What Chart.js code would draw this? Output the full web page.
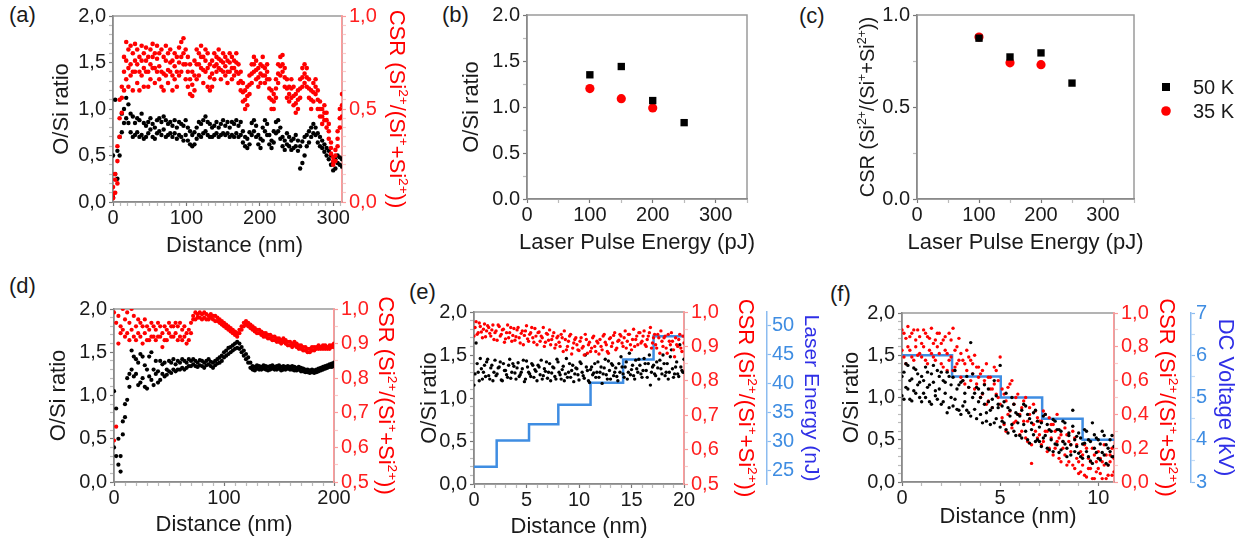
<!DOCTYPE html>
<html>
<head>
<meta charset="utf-8">
<script src="https://cdn.jsdelivr.net/npm/chart.js@4.4.1/dist/chart.umd.min.js"></script>
<style>
body { margin: 0; background: #fff; width: 1245px; height: 544px; position: relative; overflow: hidden; font-family: "Liberation Sans", Arial, sans-serif; }
canvas { position: absolute; }
.lab { position: absolute; font-size: 22px; line-height: 1; color: #1a1a1a; }
</style>
</head>
<body>
<div class="lab" style="left:9px;top:4px">(a)</div>
<div class="lab" style="left:442px;top:4px">(b)</div>
<div class="lab" style="left:799px;top:5px">(c)</div>
<div class="lab" style="left:9px;top:275px">(d)</div>
<div class="lab" style="left:409px;top:281px">(e)</div>
<div class="lab" style="left:830px;top:283px">(f)</div>

<canvas id="chartA" width="420" height="260" style="left:0;top:0"></canvas>
<canvas id="chartB" width="380" height="260" style="left:420px;top:0"></canvas>
<canvas id="chartC" width="405" height="260" style="left:840px;top:0"></canvas>
<canvas id="chartD" width="420" height="282" style="left:0;top:262px"></canvas>
<canvas id="chartE" width="440" height="282" style="left:400px;top:262px"></canvas>
<canvas id="chartF" width="415" height="282" style="left:830px;top:262px"></canvas>

<script>
// ---- (a) depth profile, 0-312 nm
const distA = [
  0,3,6,9,12,15,18,21,24,27,
  30,33,36,39,42,45,48,51,54,57,
  60,63,66,69,72,75,78,81,84,87,
  90,93,96,99,102,105,108,111,114,117,
  120,123,126,129,132,135,138,141,144,147,
  150,153,156,159,162,165,168,171,174,177,
  180,183,186,189,192,195,198,201,204,207,
  210,213,216,219,222,225,228,231,234,237,
  240,243,246,249,252,255,258,261,264,267,
  270,273,276,279,282,285,288,291,294,297,
  300,303,306,309,312];
const oSiA = [
  0.05,0.3,0.25,0.5,0.75,0.85,1.12,1.05,0.95,0.92,
  0.85,0.9,0.88,0.95,0.85,0.82,0.86,0.9,0.84,0.8,
  0.88,0.9,0.86,0.92,0.88,0.84,0.86,0.82,0.88,0.8,
  0.86,0.84,0.82,0.88,0.8,0.76,0.72,0.75,0.8,0.86,
  0.84,0.88,0.92,0.86,0.84,0.8,0.82,0.86,0.8,0.84,
  0.88,0.82,0.86,0.8,0.86,0.84,0.88,0.82,0.86,0.76,
  0.7,0.68,0.75,0.85,0.88,0.82,0.72,0.68,0.8,0.88,
  0.84,0.72,0.66,0.76,0.86,0.88,0.8,0.7,0.66,0.74,
  0.7,0.66,0.68,0.72,0.66,0.6,0.65,0.7,0.72,0.76,
  0.8,0.84,0.8,0.74,0.7,0.66,0.62,0.58,0.55,0.5,
  0.42,0.46,0.5,0.48,0.46];
const oSiA2 = [
  0.5,1.1,0.55,0.7,0.95,1.0,0.9,0.85,0.75,0.7,
  0.72,0.75,0.7,0.72,0.68,0.7,0.74,0.78,0.7,0.68,
  0.74,0.76,0.72,0.78,0.7,0.72,0.74,0.7,0.74,0.68,
  0.72,0.7,0.66,0.72,0.66,0.62,0.6,0.62,0.68,0.72,
  0.7,0.74,0.76,0.72,0.7,0.7,0.72,0.74,0.7,0.72,
  0.74,0.72,0.74,0.7,0.72,0.7,0.74,0.7,0.72,0.64,
  0.6,0.58,0.62,0.72,0.76,0.7,0.62,0.58,0.66,0.76,
  0.72,0.62,0.58,0.64,0.74,0.76,0.68,0.6,0.56,0.62,
  0.6,0.56,0.58,0.6,0.55,0.36,0.42,0.5,0.6,0.64,
  0.7,0.74,0.72,0.64,0.6,0.58,0.54,0.5,0.46,0.4,
  0.34,0.36,0.42,0.4,0.38];
const csrA = [
  0.02,0.05,0.22,0.35,0.62,0.78,0.86,0.82,0.84,0.8,
  0.85,0.82,0.78,0.84,0.8,0.83,0.78,0.82,0.85,0.8,
  0.84,0.8,0.82,0.78,0.84,0.8,0.82,0.76,0.8,0.78,
  0.83,0.86,0.88,0.82,0.78,0.74,0.7,0.76,0.82,0.8,
  0.84,0.78,0.82,0.8,0.74,0.76,0.8,0.78,0.82,0.76,
  0.8,0.78,0.76,0.8,0.78,0.76,0.8,0.74,0.7,0.64,
  0.6,0.62,0.68,0.74,0.78,0.76,0.72,0.74,0.78,0.72,
  0.74,0.66,0.6,0.58,0.66,0.74,0.78,0.79,0.72,0.66,
  0.62,0.66,0.62,0.58,0.6,0.66,0.72,0.74,0.72,0.66,
  0.6,0.64,0.66,0.6,0.54,0.5,0.52,0.48,0.42,0.32,
  0.24,0.28,0.38,0.5,0.58];
const csrA2 = [
  0.08,0.15,0.1,0.55,0.48,0.6,0.66,0.62,0.68,0.6,
  0.7,0.64,0.6,0.68,0.62,0.7,0.62,0.66,0.72,0.64,
  0.7,0.66,0.62,0.6,0.68,0.64,0.7,0.6,0.66,0.62,
  0.68,0.7,0.74,0.66,0.62,0.58,0.57,0.6,0.66,0.68,
  0.72,0.64,0.7,0.62,0.6,0.62,0.66,0.7,0.72,0.66,
  0.7,0.68,0.64,0.7,0.66,0.68,0.7,0.64,0.6,0.54,
  0.5,0.52,0.58,0.64,0.7,0.66,0.62,0.64,0.68,0.64,
  0.66,0.56,0.5,0.5,0.56,0.64,0.68,0.7,0.62,0.56,
  0.54,0.56,0.52,0.48,0.5,0.56,0.62,0.64,0.62,0.56,
  0.5,0.54,0.58,0.5,0.46,0.42,0.44,0.4,0.34,0.26,
  0.2,0.22,0.3,0.4,0.46];
const csrA3 = [
  0.04,0.12,0.3,0.45,0.56,0.7,0.76,0.72,0.74,0.7,
  0.76,0.74,0.7,0.76,0.72,0.76,0.7,0.74,0.78,0.72,
  0.77,0.73,0.7,0.69,0.76,0.71,0.75,0.68,0.73,0.7,
  0.75,0.78,0.8,0.74,0.7,0.66,0.63,0.68,0.74,0.74,
  0.78,0.71,0.76,0.72,0.67,0.69,0.73,0.74,0.77,0.71,
  0.75,0.73,0.7,0.75,0.72,0.72,0.75,0.69,0.65,0.59,
  0.55,0.57,0.63,0.69,0.74,0.71,0.67,0.69,0.73,0.68,
  0.7,0.61,0.55,0.54,0.61,0.69,0.73,0.74,0.67,0.61,
  0.58,0.61,0.57,0.53,0.55,0.61,0.67,0.69,0.67,0.61,
  0.55,0.59,0.62,0.55,0.5,0.46,0.48,0.44,0.38,0.29,
  0.22,0.25,0.34,0.45,0.52];

// ---- (b), (c) laser pulse energy series
const pulse50K = [100, 150, 200, 250];
const pulse35K = [100, 150, 200];
const ratio50K = [1.35, 1.44, 1.07, 0.83];
const ratio35K = [1.2, 1.09, 0.99];
const csr50K = [0.874, 0.772, 0.794, 0.63];
const csr35K = [0.88, 0.74, 0.73];

// ---- (d) depth profile, 0-200 nm
const distD = [
  0,2,4,6,8,10,12,14,16,18,
  20,22,24,26,28,30,32,34,36,38,
  40,42,44,46,48,50,52,54,56,58,
  60,62,64,66,68,70,72,74,76,78,
  80,82,84,86,88,90,92,94,96,98,
  100,102,104,106,108,110,112,114,116,118,
  120,122,124,126,128,130,132,134,136,138,
  140,142,144,146,148,150,152,154,156,158,
  160,162,164,166,168,170,172,174,176,178,
  180,182,184,186,188,190,192,194,196,198,
  200];
const oSiD = [
  1.05,0.85,0.5,0.3,0.55,0.9,0.95,1.25,1.52,1.22,
  1.42,1.12,1.48,1.2,1.35,1.08,1.45,1.18,1.3,1.4,
  1.15,1.4,1.25,1.38,1.3,1.4,1.38,1.42,1.36,1.4,
  1.38,1.42,1.4,1.38,1.42,1.4,1.42,1.4,1.38,1.41,
  1.4,1.38,1.4,1.42,1.39,1.38,1.4,1.42,1.44,1.46,
  1.5,1.52,1.55,1.56,1.58,1.6,1.62,1.6,1.56,1.52,
  1.48,1.44,1.38,1.34,1.33,1.35,1.34,1.33,1.35,1.34,
  1.33,1.34,1.35,1.33,1.34,1.35,1.33,1.34,1.33,1.34,
  1.33,1.34,1.33,1.32,1.33,1.32,1.31,1.3,1.3,1.29,
  1.3,1.29,1.3,1.31,1.32,1.33,1.34,1.35,1.36,1.37,
  1.38];
const oSiD2 = [
  0.4,0.3,0.2,0.12,0.7,0.75,1.2,1.1,1.3,1.45,
  1.25,1.38,1.15,1.45,1.1,1.3,1.22,1.5,1.12,1.25,
  1.28,1.18,1.36,1.22,1.24,1.28,1.26,1.3,1.28,1.3,
  1.3,1.32,1.3,1.32,1.34,1.34,1.36,1.34,1.33,1.35,
  1.34,1.32,1.35,1.36,1.34,1.32,1.35,1.37,1.38,1.4,
  1.44,1.46,1.48,1.5,1.52,1.54,1.55,1.54,1.5,1.46,
  1.42,1.38,1.32,1.3,1.29,1.31,1.3,1.3,1.31,1.3,
  1.29,1.3,1.31,1.3,1.3,1.31,1.29,1.3,1.3,1.31,
  1.3,1.3,1.29,1.29,1.3,1.28,1.28,1.27,1.27,1.26,
  1.27,1.26,1.27,1.28,1.29,1.3,1.31,1.32,1.33,1.33,
  1.34];
const csrD = [
  0.99,0.96,0.98,0.95,1.0,0.97,0.99,0.96,1.0,0.98,
  0.95,0.97,0.92,0.95,0.97,0.91,0.94,0.96,0.92,0.94,
  0.96,0.92,0.93,0.95,0.91,0.96,0.95,0.92,0.96,0.95,
  0.96,0.94,0.95,0.93,0.94,0.96,0.98,0.99,0.985,0.99,
  0.985,0.99,0.985,0.98,0.985,0.98,0.98,0.975,0.97,0.965,
  0.96,0.955,0.95,0.945,0.94,0.935,0.93,0.94,0.95,0.96,
  0.965,0.96,0.955,0.95,0.945,0.94,0.94,0.935,0.93,0.93,
  0.925,0.925,0.92,0.92,0.915,0.915,0.91,0.915,0.91,0.905,
  0.905,0.9,0.905,0.9,0.895,0.895,0.89,0.89,0.885,0.885,
  0.89,0.89,0.89,0.895,0.89,0.895,0.895,0.89,0.895,0.895,
  0.9];
const csrD2 = [
  0.62,0.66,0.9,0.93,0.94,0.92,0.93,0.91,0.94,0.92,
  0.91,0.93,0.96,0.9,0.93,0.95,0.91,0.92,0.95,0.91,
  0.92,0.95,0.89,0.91,0.94,0.93,0.92,0.95,0.93,0.91,
  0.92,0.91,0.92,0.9,0.91,0.93,0.97,0.97,0.975,0.975,
  0.97,0.975,0.97,0.97,0.975,0.97,0.965,0.965,0.96,0.955,
  0.95,0.945,0.94,0.935,0.93,0.925,0.92,0.93,0.94,0.95,
  0.955,0.95,0.945,0.94,0.935,0.93,0.93,0.925,0.92,0.92,
  0.915,0.915,0.91,0.91,0.905,0.905,0.9,0.905,0.9,0.895,
  0.895,0.89,0.895,0.89,0.885,0.885,0.88,0.88,0.875,0.875,
  0.88,0.88,0.885,0.885,0.885,0.885,0.885,0.885,0.885,0.89,
  0.89];

// ---- (e) stepped laser energy run, 0-20 nm
const distE = [
  0,0.2,0.4,0.6,0.8,1,1.2,1.4,1.6,1.8,
  2,2.2,2.4,2.6,2.8,3,3.2,3.4,3.6,3.8,
  4,4.2,4.4,4.6,4.8,5,5.2,5.4,5.6,5.8,
  6,6.2,6.4,6.6,6.8,7,7.2,7.4,7.6,7.8,
  8,8.2,8.4,8.6,8.8,9,9.2,9.4,9.6,9.8,
  10,10.2,10.4,10.6,10.8,11,11.2,11.4,11.6,11.8,
  12,12.2,12.4,12.6,12.8,13,13.2,13.4,13.6,13.8,
  14,14.2,14.4,14.6,14.8,15,15.2,15.4,15.6,15.8,
  16,16.2,16.4,16.6,16.8,17,17.2,17.4,17.6,17.8,
  18,18.2,18.4,18.6,18.8,19,19.2,19.4,19.6,19.8,
  20];
const distE2 = [
  0.1,0.3,0.5,0.7,0.9,1.1,1.3,1.5,1.7,1.9,
  2.1,2.3,2.5,2.7,2.9,3.1,3.3,3.5,3.7,3.9,
  4.1,4.3,4.5,4.7,4.9,5.1,5.3,5.5,5.7,5.9,
  6.1,6.3,6.5,6.7,6.9,7.1,7.3,7.5,7.7,7.9,
  8.1,8.3,8.5,8.7,8.9,9.1,9.3,9.5,9.7,9.9,
  10.1,10.3,10.5,10.7,10.9,11.1,11.3,11.5,11.7,11.9,
  12.1,12.3,12.5,12.7,12.9,13.1,13.3,13.5,13.7,13.9,
  14.1,14.3,14.5,14.7,14.9,15.1,15.3,15.5,15.7,15.9,
  16.1,16.3,16.5,16.7,16.9,17.1,17.3,17.5,17.7,17.9,
  18.1,18.3,18.5,18.7,18.9,19.1,19.3,19.5,19.7,19.9];
const oSiE = [
  1.15,1.64,1.3,1.46,1.22,1.38,1.42,1.26,1.35,1.2,
  1.44,1.28,1.36,1.21,1.4,1.32,1.24,1.45,1.3,1.37,
  1.22,1.41,1.27,1.34,1.19,1.43,1.3,1.25,1.38,1.33,
  1.2,1.36,1.44,1.26,1.31,1.23,1.4,1.29,1.35,1.22,
  1.42,1.27,1.33,1.2,1.46,1.3,1.24,1.38,1.28,1.34,
  1.21,1.4,1.26,1.5,1.32,1.18,1.36,1.29,1.24,1.42,
  1.3,1.17,1.35,1.27,1.43,1.22,1.38,1.3,1.25,1.4,
  1.48,1.28,1.36,1.22,1.52,1.33,1.26,1.44,1.3,1.38,
  1.24,1.46,1.32,1.4,1.15,1.36,1.28,1.42,1.22,1.34,
  1.5,1.26,1.4,1.3,1.56,1.24,1.36,1.28,1.62,1.32,
  1.45];
const oSiE2 = [
  1.28,1.4,1.2,1.34,1.3,1.25,1.45,1.22,1.38,1.3,
  1.26,1.35,1.42,1.2,1.32,1.27,1.38,1.23,1.4,1.29,
  1.35,1.25,1.3,1.44,1.22,1.36,1.28,1.4,1.24,1.31,
  1.38,1.27,1.22,1.34,1.42,1.3,1.2,1.36,1.25,1.45,
  1.3,1.22,1.37,1.28,1.24,1.4,1.32,1.19,1.35,1.27,
  1.42,1.3,1.23,1.36,1.2,1.33,1.27,1.4,1.3,1.24,
  1.36,1.28,1.45,1.22,1.32,1.4,1.26,1.35,1.2,1.3,
  1.36,1.24,1.42,1.3,1.27,1.38,1.22,1.34,1.45,1.28,
  1.32,1.4,1.24,1.5,1.3,1.38,1.26,1.35,1.44,1.28,
  1.4,1.3,1.22,1.48,1.34,1.28,1.42,1.25,1.36,1.3];
const csrE = [
  0.93,0.972,0.94,0.958,0.925,0.965,0.945,0.955,0.93,0.962,
  0.94,0.918,0.958,0.935,0.95,0.922,0.962,0.94,0.915,0.952,
  0.928,0.955,0.91,0.945,0.932,0.96,0.915,0.94,0.925,0.952,
  0.905,0.942,0.93,0.955,0.912,0.935,0.948,0.92,0.94,0.905,
  0.93,0.9,0.925,0.945,0.89,0.915,0.935,0.895,0.92,0.905,
  0.888,0.925,0.9,0.935,0.88,0.912,0.895,0.93,0.885,0.91,
  0.92,0.89,0.935,0.905,0.88,0.925,0.91,0.94,0.895,0.918,
  0.93,0.9,0.945,0.915,0.935,0.89,0.95,0.92,0.905,0.94,
  0.915,0.945,0.9,0.93,0.955,0.91,0.935,0.895,0.925,0.945,
  0.9,0.93,0.88,0.915,0.94,0.89,0.925,0.9,0.935,0.885,
  0.91];
const csrE2 = [
  0.955,0.935,0.968,0.942,0.95,0.928,0.96,0.938,0.948,0.92,
  0.945,0.962,0.93,0.948,0.912,0.94,0.925,0.955,0.932,0.918,
  0.948,0.925,0.938,0.905,0.945,0.922,0.935,0.955,0.912,0.93,
  0.94,0.915,0.925,0.9,0.938,0.918,0.905,0.93,0.895,0.925,
  0.912,0.935,0.885,0.92,0.9,0.93,0.878,0.91,0.925,0.89,
  0.915,0.895,0.875,0.92,0.905,0.885,0.925,0.9,0.915,0.878,
  0.9,0.93,0.912,0.885,0.922,0.9,0.932,0.89,0.915,0.935,
  0.91,0.925,0.895,0.935,0.905,0.92,0.9,0.93,0.94,0.91,
  0.93,0.905,0.92,0.94,0.895,0.925,0.905,0.935,0.88,0.915,
  0.925,0.895,0.935,0.905,0.915,0.87,0.905,0.92,0.895,0.93];
const laserX = [0, 2.16, 5.24, 8.03, 11.1, 14.2, 17.1, 20];
const laserE = [25.7, 30.2, 33, 36.4, 40.2, 44.2, 48.2, 48.2];

// ---- (f) stepped DC voltage run, 0-10.8 nm
const distF = [
  0,0.1,0.2,0.3,0.4,0.5,0.6,0.7,0.8,0.9,
  1,1.1,1.2,1.3,1.4,1.5,1.6,1.7,1.8,1.9,
  2,2.1,2.2,2.3,2.4,2.5,2.6,2.7,2.8,2.9,
  3,3.1,3.2,3.3,3.4,3.5,3.6,3.7,3.8,3.9,
  4,4.1,4.2,4.3,4.4,4.5,4.6,4.7,4.8,4.9,
  5,5.1,5.2,5.3,5.4,5.5,5.6,5.7,5.8,5.9,
  6,6.1,6.2,6.3,6.4,6.5,6.6,6.7,6.8,6.9,
  7,7.1,7.2,7.3,7.4,7.5,7.6,7.7,7.8,7.9,
  8,8.1,8.2,8.3,8.4,8.5,8.6,8.7,8.8,8.9,
  9,9.1,9.2,9.3,9.4,9.5,9.6,9.7,9.8,9.9,
  10,10.1,10.2,10.3,10.4,10.5,10.6,10.7,10.8];
const oSiF = [
  1.02,1.3,1.12,1.38,0.98,1.22,1.08,1.33,1.15,1.0,
  1.25,1.05,1.36,1.12,0.95,1.28,1.18,1.02,1.32,1.1,
  0.92,1.2,1.05,1.3,0.88,1.15,1.24,0.98,1.1,0.85,
  1.18,0.9,1.05,1.25,0.82,1.65,1.0,0.86,1.12,0.95,
  0.8,1.05,0.92,0.72,1.1,0.85,0.98,0.7,1.02,0.88,
  1.38,0.72,0.95,0.62,0.88,0.78,1.0,0.6,0.82,0.7,
  0.55,0.85,0.68,0.9,0.5,0.75,0.62,0.82,0.48,0.72,
  0.65,0.42,0.78,0.55,0.68,0.38,0.6,0.74,0.45,0.62,
  0.35,0.6,0.48,0.7,0.4,0.55,0.32,0.85,0.5,0.42,
  0.58,0.3,0.45,0.62,0.36,0.5,0.25,0.7,0.4,0.52,
  0.28,0.45,0.35,0.55,0.22,0.4,0.5,0.3,0.42];
const oSiF2 = [
  1.25,0.98,1.4,1.1,1.2,0.96,1.35,1.05,1.28,1.18,
  0.95,1.2,1.0,1.3,1.15,0.92,1.38,1.08,0.98,1.25,
  1.3,0.95,1.18,0.82,1.25,1.0,0.9,1.32,0.86,1.15,
  0.8,1.2,0.95,0.85,1.12,0.78,1.28,1.05,0.75,1.1,
  1.0,0.7,1.15,0.82,0.95,0.68,0.88,1.2,0.75,0.92,
  0.65,0.9,0.7,1.05,0.58,0.85,0.68,0.92,0.55,0.8,
  0.78,0.52,0.92,0.6,0.8,0.46,0.7,0.56,0.85,0.5,
  0.48,0.7,0.52,0.8,0.4,0.62,0.5,0.36,0.72,0.44,
  0.62,0.38,0.72,0.45,0.3,0.58,0.44,0.66,0.36,0.54,
  0.34,0.52,0.28,0.46,0.6,0.3,0.48,0.22,0.56,0.35,
  0.5,0.26,0.6,0.32,0.44,0.2,0.36,0.55,0.3];
const csrF = [
  0.9,0.74,0.85,0.92,0.78,0.88,0.72,0.84,0.9,0.76,
  0.82,0.9,0.72,0.86,0.78,0.91,0.74,0.84,0.8,0.88,
  0.7,0.84,0.78,0.66,0.88,0.74,0.91,0.68,0.8,0.72,
  0.76,0.6,0.7,0.78,0.56,0.72,0.64,0.75,0.58,0.68,
  0.5,0.66,0.6,0.7,0.48,0.62,0.55,0.68,0.52,0.6,
  0.74,0.38,0.52,0.3,0.56,0.42,0.6,0.35,0.5,0.4,
  0.28,0.44,0.36,0.5,0.24,0.4,0.11,0.46,0.3,0.38,
  0.36,0.22,0.42,0.3,0.18,0.38,0.26,0.34,0.2,0.4,
  0.14,0.28,0.2,0.32,0.1,0.24,0.18,0.3,0.08,0.22,
  0.05,0.18,0.1,0.22,0.03,0.14,0.08,0.2,0.02,0.12,
  0.18,0.05,0.12,0.22,0.02,0.1,0.16,0.04,0.14];
const csrF2 = [
  0.78,0.88,0.7,0.8,0.86,0.74,0.9,0.8,0.75,0.86,
  0.74,0.8,0.88,0.7,0.85,0.76,0.82,0.72,0.88,0.76,
  0.82,0.68,0.86,0.76,0.72,0.84,0.66,0.78,0.7,0.85,
  0.62,0.72,0.58,0.66,0.74,0.6,0.7,0.55,0.68,0.62,
  0.64,0.52,0.58,0.46,0.62,0.55,0.44,0.58,0.66,0.5,
  0.46,0.55,0.34,0.48,0.4,0.58,0.32,0.46,0.36,0.52,
  0.4,0.3,0.48,0.26,0.36,0.44,0.22,0.34,0.42,0.26,
  0.28,0.36,0.24,0.4,0.3,0.2,0.34,0.16,0.3,0.24,
  0.26,0.12,0.24,0.16,0.28,0.12,0.22,0.1,0.26,0.14,
  0.12,0.06,0.16,0.04,0.2,0.08,0.12,0.02,0.16,0.06,
  0.08,0.14,0.02,0.1,0.16,0.04,0.12,0.2,0.06];
const dcX = [0, 2.55, 5.03, 7.14, 9.2, 10.8];
const dcV = [6, 5.5, 5, 4.5, 4, 4];

// ---- colours
const BLACK = '#000000';
const RED = '#ff0000';
const BLUE = '#3f8de2';
const FONT = '"Liberation Sans", Arial, sans-serif';

Chart.defaults.font.family = FONT;
Chart.defaults.font.size = 20;
Chart.defaults.color = '#1a1a1a';
Chart.defaults.animation = false;

const pts = (xs, ys) => xs.map((x, i) => ({x: x, y: ys[i]}));
const comma = v => v.toFixed(1).replace('.', ',');
const dot = v => v.toFixed(1);

// axis titles per canvas, kept outside the chart options
const titleSets = {};
const legendSets = {};

// text with ^{...} superscripts, centred on the origin
function drawRich(ctx, text, size, color) {
  const parts = [];
  text.split(/(\^\{[^}]*\})/).forEach(p => {
    if (!p) return;
    if (p.startsWith('^{')) parts.push({t: p.slice(2, -1), sup: true});
    else parts.push({t: p, sup: false});
  });
  let total = 0;
  parts.forEach(p => {
    ctx.font = (p.sup ? size * 0.62 : size) + 'px ' + FONT;
    p.w = ctx.measureText(p.t).width;
    total += p.w;
  });
  let x = -total / 2;
  ctx.fillStyle = color;
  ctx.textAlign = 'left';
  ctx.textBaseline = 'alphabetic';
  parts.forEach(p => {
    ctx.font = (p.sup ? size * 0.62 : size) + 'px ' + FONT;
    ctx.fillText(p.t, x, size * 0.36 - (p.sup ? size * 0.42 : 0));
    x += p.w;
  });
}

// axis titles placed from the outer edge of each scale box
const sideTitles = {
  id: 'sideTitles',
  afterDraw(chart) {
    const items = titleSets[chart.canvas.id] || [];
    const ctx = chart.ctx, area = chart.chartArea;
    items.forEach(t => {
      const s = chart.scales[t.axis];
      ctx.save();
      if (t.axis === 'x') {
        ctx.translate((area.left + area.right) / 2 + (t.shift || 0), s.bottom - t.offset);
      } else {
        const left = t.axis === 'y';
        const x = left ? s.left + t.offset : s.right - t.offset;
        ctx.translate(x, (area.top + area.bottom) / 2 + (t.shift || 0));
        ctx.rotate(left ? -Math.PI / 2 : Math.PI / 2);
      }
      drawRich(ctx, t.text, t.size || 22, t.color || '#1a1a1a');
      ctx.restore();
    });
  }
};

// grey box round the plot, axis borders paint over it
const frame = {
  id: 'frame',
  beforeDraw(chart) {
    const {left, top, right, bottom} = chart.chartArea;
    const ctx = chart.ctx;
    ctx.save();
    ctx.strokeStyle = '#9a9a9a';
    ctx.lineWidth = 1.5;
    ctx.strokeRect(left, top, right - left, bottom - top);
    ctx.restore();
  }
};

// small legend to the right of the plot
const sideLegend = {
  id: 'sideLegend',
  afterDraw(chart) {
    const opts = legendSets[chart.canvas.id];
    if (!opts) return;
    const ctx = chart.ctx, right = chart.chartArea.right;
    chart.data.datasets.forEach((ds, i) => {
      const y = opts.y + i * opts.gap, x = right + opts.dx;
      ctx.save();
      ctx.fillStyle = ds.backgroundColor;
      if (ds.pointStyle === 'rect') ctx.fillRect(x - 4, y - 4, 8, 8);
      else { ctx.beginPath(); ctx.arc(x, y, 4.8, 0, Math.PI * 2); ctx.fill(); }
      ctx.fillStyle = '#1a1a1a';
      ctx.font = '20px ' + FONT;
      ctx.textBaseline = 'middle';
      ctx.fillText(ds.label, right + opts.tx, y + 1);
      ctx.restore();
    });
  }
};

Chart.register(sideTitles, frame, sideLegend);

function axis(o) {
  const isMajor = v => Math.abs(v / o.major - Math.round(v / o.major)) < 1e-6;
  return {
    type: 'linear', position: o.pos, min: o.min, max: o.max,
    afterFit: s => { if (o.pos === 'bottom') s.height = o.size; else s.width = o.size; },
    ticks: {
      stepSize: o.step, includeBounds: false, autoSkip: false, maxRotation: 0, minRotation: 0,
      padding: o.pad == null ? 2 : o.pad, color: o.color || '#1a1a1a', font: {size: 20},
      callback: v => isMajor(v) ? (o.fmt ? o.fmt(v) : String(Math.round(v))) : ''
    },
    grid: {
      drawOnChartArea: false, tickLength: 4, tickWidth: 1.2,
      tickColor: c => (c.tick && isMajor(c.tick.value)) ? (o.line || '#777') : (o.minor || '#bbb')
    },
    border: {color: o.line || '#8a8a8a', width: 1.5}
  };
}

function dots(data, color, yAxisID, r) {
  return {type: 'scatter', data: data, backgroundColor: color, borderColor: color, borderWidth: 0,
          pointRadius: r || 2, pointHoverRadius: 0, yAxisID: yAxisID};
}

function steps(data, yAxisID) {
  return {type: 'line', data: data, borderColor: BLUE, borderWidth: 2.5, stepped: 'before',
          pointRadius: 0, fill: false, yAxisID: yAxisID};
}

function make(id, datasets, scales, padding, titles, legend) {
  titleSets[id] = titles;
  if (legend) legendSets[id] = legend;
  return new Chart(document.getElementById(id), {
    type: 'scatter',
    data: {datasets: datasets},
    options: {
      responsive: false,
      events: [],
      layout: {padding: padding},
      scales: scales,
      plugins: {legend: {display: false}, tooltip: {enabled: false}}
    }
  });
}

const CSR_TITLE = 'CSR (Si^{2+}/(Si^{+}+Si^{2+}))';
const redAxis = {color: '#ff2020', line: '#ff9a9a', minor: '#ffc8c8'};
const blueAxis = {color: BLUE, line: '#8cbcf0', minor: '#c2dbf7'};

// (a)
make('chartA', [
  dots(pts(distA, csrA), RED, 'y2', 2.3),
  dots(pts(distA, csrA2), RED, 'y2', 2.3),
  dots(pts(distA, csrA3), RED, 'y2', 2.3),
  dots(pts(distA, oSiA), BLACK, 'y', 2.2),
  dots(pts(distA, oSiA2), BLACK, 'y', 2.2)
], {
  x: axis({pos: 'bottom', min: 0, max: 312, step: 10, major: 100, size: 58, pad: 0}),
  y: axis({pos: 'left', min: 0, max: 2, step: 0.1, major: 0.5, fmt: comma, size: 113, pad: 3}),
  y2: axis(Object.assign({pos: 'right', min: 0, max: 1, step: 0.05, major: 0.5, fmt: comma, size: 78, pad: 3}, redAxis))
}, {top: 16, left: 0, right: 0, bottom: 0}, [
  {axis: 'y', text: 'O/Si ratio', offset: 60},
  {axis: 'y2', text: CSR_TITLE, offset: 22, color: RED},
  {axis: 'x', text: 'Distance (nm)', offset: 16, shift: 7}
]);

// (b)
make('chartB', [
  {label: '50 K', data: pts(pulse50K, ratio50K), pointStyle: 'rect', pointRadius: 5.2, backgroundColor: BLACK, borderWidth: 0, yAxisID: 'y'},
  {label: '35 K', data: pts(pulse35K, ratio35K), pointStyle: 'circle', pointRadius: 4.6, backgroundColor: RED, borderWidth: 0, yAxisID: 'y'}
], {
  x: axis({pos: 'bottom', min: 0, max: 350, step: 50, major: 100, size: 61, pad: 0}),
  y: axis({pos: 'left', min: 0, max: 2, step: 0.25, major: 0.5, fmt: dot, size: 107, pad: 3})
}, {top: 13, left: 0, right: 53, bottom: 0}, [
  {axis: 'y', text: 'O/Si ratio', offset: 50},
  {axis: 'x', text: 'Laser Pulse Energy (pJ)', offset: 19}
]);

// (c)
make('chartC', [
  {label: '50 K', data: pts(pulse50K, csr50K), pointStyle: 'rect', pointRadius: 5.2, backgroundColor: BLACK, borderWidth: 0, yAxisID: 'y'},
  {label: '35 K', data: pts(pulse35K, csr35K), pointStyle: 'circle', pointRadius: 4.6, backgroundColor: RED, borderWidth: 0, yAxisID: 'y'}
], {
  x: axis({pos: 'bottom', min: 0, max: 350, step: 50, major: 100, size: 61, pad: 0}),
  y: axis({pos: 'left', min: 0, max: 1, step: 0.25, major: 0.5, fmt: dot, size: 77, pad: 3})
}, {top: 13, left: 0, right: 111, bottom: 0}, [
  {axis: 'y', text: CSR_TITLE, offset: 27, size: 20},
  {axis: 'x', text: 'Laser Pulse Energy (pJ)', offset: 19}
], {y: 87, gap: 24, dx: 32, tx: 59});

// (d)
make('chartD', [
  dots(pts(distD, csrD), RED, 'y2', 2.1),
  dots(pts(distD, csrD2), RED, 'y2', 2.1),
  dots(pts(distD, oSiD), BLACK, 'y', 2.1),
  dots(pts(distD, oSiD2), BLACK, 'y', 2.1)
], {
  x: axis({pos: 'bottom', min: 0, max: 200, step: 10, major: 100, size: 62, pad: 0}),
  y: axis({pos: 'left', min: 0, max: 2, step: 0.1, major: 0.5, fmt: comma, size: 114, pad: 3}),
  y2: axis(Object.assign({pos: 'right', min: 0.5, max: 1, step: 0.05, major: 0.1, fmt: comma, size: 86, pad: 3}, redAxis))
}, {top: 47, left: 0, right: 0, bottom: 0}, [
  {axis: 'y', text: 'O/Si ratio', offset: 57},
  {axis: 'y2', text: CSR_TITLE, offset: 33, color: RED},
  {axis: 'x', text: 'Distance (nm)', offset: 21}
]);

// (e)
make('chartE', [
  dots(pts(distE, csrE), RED, 'y2', 1.7),
  dots(pts(distE2, csrE2), RED, 'y2', 1.7),
  dots(pts(distE, oSiE), BLACK, 'y', 1.7),
  dots(pts(distE2, oSiE2), BLACK, 'y', 1.7),
  steps(pts(laserX, laserE), 'y3')
], {
  x: axis({pos: 'bottom', min: 0, max: 20, step: 1, major: 5, size: 60, pad: 0}),
  y: axis({pos: 'left', min: 0, max: 2, step: 0.1, major: 0.5, fmt: comma, size: 74, pad: 3}),
  y2: axis(Object.assign({pos: 'right', min: 0.5, max: 1, step: 0.05, major: 0.1, fmt: comma, size: 83, pad: 3}, redAxis)),
  y3: axis(Object.assign({pos: 'right', min: 22.7, max: 52.4, step: 5, major: 5, size: 73, pad: 1}, blueAxis))
}, {top: 50, left: 0, right: 0, bottom: 0}, [
  {axis: 'y', text: 'O/Si ratio', offset: 28},
  {axis: 'y2', text: CSR_TITLE, offset: 20, color: RED},
  {axis: 'y3', text: 'Laser Energy (nJ)', offset: 27, color: '#2f2fe6', size: 21},
  {axis: 'x', text: 'Distance (nm)', offset: 19}
]);

// (f)
make('chartF', [
  dots(pts(distF, oSiF), BLACK, 'y', 1.7),
  dots(pts(distF, oSiF2), BLACK, 'y', 1.7),
  dots(pts(distF, csrF), RED, 'y2', 1.7),
  dots(pts(distF, csrF2), RED, 'y2', 1.7),
  steps(pts(dcX, dcV), 'y3')
], {
  x: axis({pos: 'bottom', min: 0, max: 10.8, step: 1, major: 5, size: 62, pad: 0}),
  y: axis({pos: 'left', min: 0, max: 2, step: 0.1, major: 0.5, fmt: comma, size: 72, pad: 3}),
  y2: axis(Object.assign({pos: 'right', min: 0, max: 1, step: 0.1, major: 0.2, fmt: comma, size: 77, pad: 3}, redAxis)),
  y3: axis(Object.assign({pos: 'right', min: 3, max: 7, step: 0.5, major: 1, size: 54, pad: 1}, blueAxis))
}, {top: 51, left: 0, right: 0, bottom: 0}, [
  {axis: 'y', text: 'O/Si ratio', offset: 20},
  {axis: 'y2', text: CSR_TITLE, offset: 23, color: RED},
  {axis: 'y3', text: 'DC Voltage (kV)', offset: 18, color: '#2f2fe6'},
  {axis: 'x', text: 'Distance (nm)', offset: 29}
]);
</script>
</body>
</html>
